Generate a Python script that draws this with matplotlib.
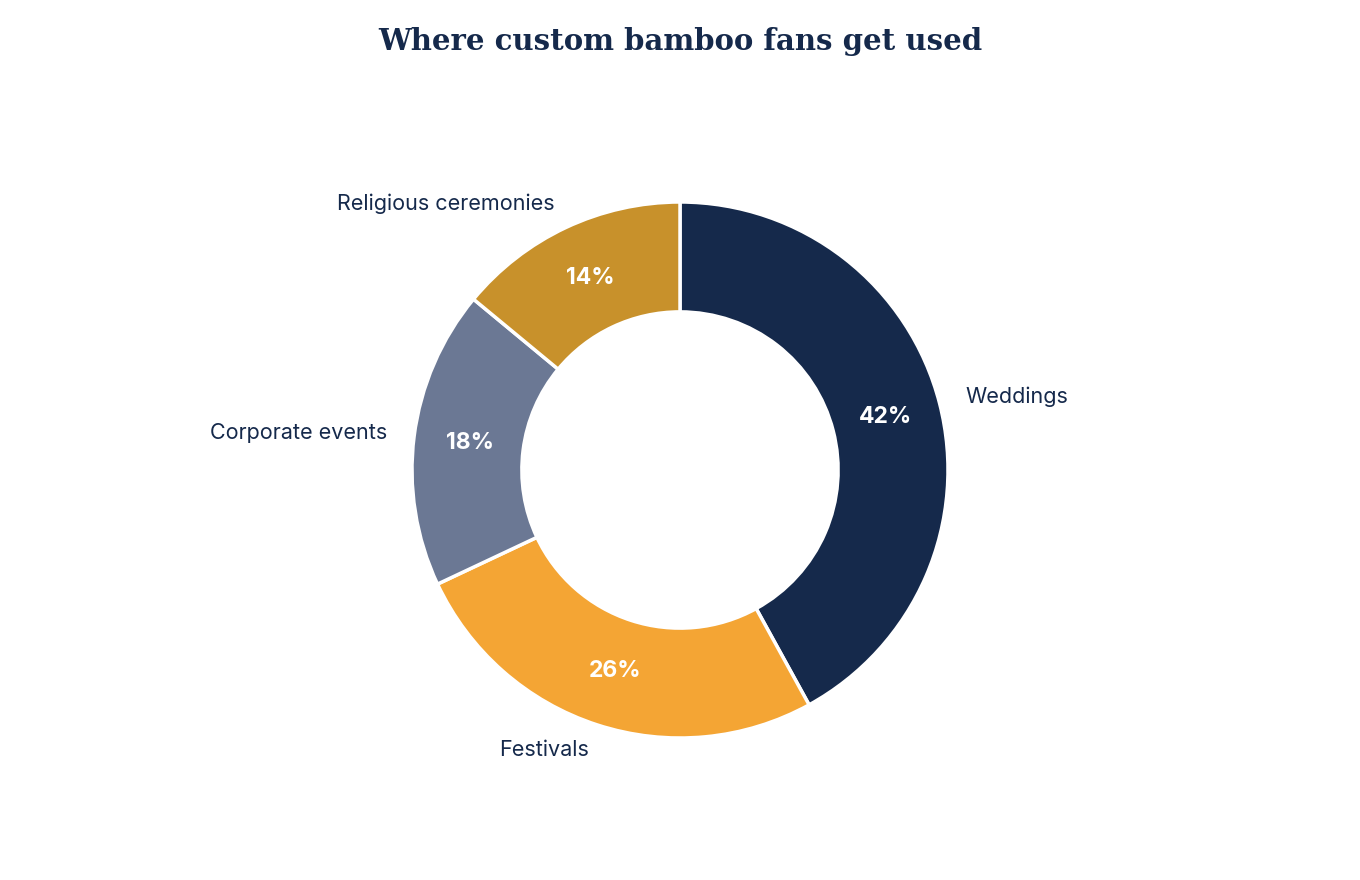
import matplotlib
matplotlib.use("Agg")
import matplotlib.pyplot as plt

categories = ["Weddings", "Festivals", "Corporate events", "Religious ceremonies"]
shares = [42, 26, 18, 14]
colors = ["#15294b", "#f4a534", "#6b7894", "#c8912b"]

plt.rcParams['font.family'] = ['Inter', 'DejaVu Sans']
navy = "#15294b"

fig = plt.figure(figsize=(13.6, 8.8), dpi=100)
# donut axes: centre ~ (680, 470) px, outer radius ~268 px
ax = fig.add_axes([(680 - 268) / 1360, (880 - 738) / 880, 536 / 1360, 536 / 880])
wedges, texts, autotexts = ax.pie(
    shares, labels=categories, colors=colors, startangle=90, counterclock=False,
    radius=1.0, labeldistance=1.1, pctdistance=0.79,
    autopct=lambda p: f"{p:.0f}%",
    wedgeprops=dict(width=0.41, edgecolor="white", linewidth=2.5),
    textprops=dict(color=navy, fontsize=15.5),
)
for t in autotexts:
    t.set_color("white")
    t.set_fontsize(16.5)
    t.set_fontweight("bold")
ax.set_xlim(-1, 1)
ax.set_ylim(-1, 1)
ax.set_aspect("equal")

fig.text(0.5, 1 - 42 / 880, "Where custom bamboo fans get used", ha="center", va="center",
         fontsize=21, fontweight="bold", color=navy, family=["DejaVu Serif"])

fig.savefig("out.png", dpi=100)
